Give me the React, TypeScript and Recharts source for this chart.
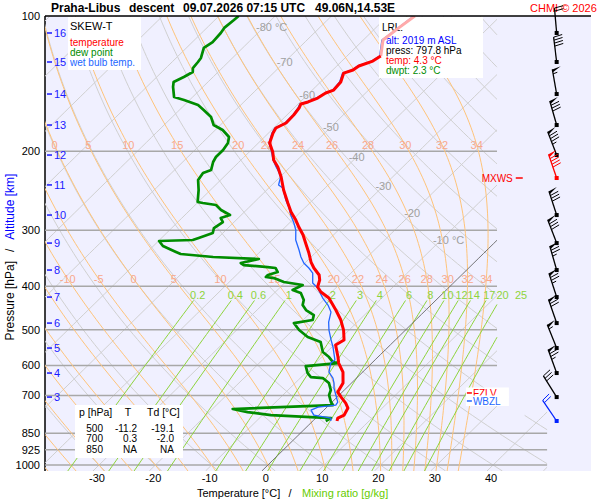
import React from 'react';
import { ScatterChart, Scatter, XAxis, YAxis, CartesianGrid } from 'recharts';

// Sounding: pressure [hPa], temperature [°C]
const tempP = [100, 106.3, 113.1, 122.8, 126.0, 129.2, 131.9, 134.0, 140.3, 146.2, 148.4, 152.3, 155.4, 157.0, 160.3, 166.1, 173.1, 177.6, 182.2, 191.8, 200.9, 209.3, 216.9, 228.3, 244.1, 260.9, 273.2, 284.7, 295.1, 307.4, 320.3, 337.2, 353.1, 364.1, 377.4, 387.2, 401.4, 411.8, 424.7, 451.6, 475.4, 500.4, 526.8, 540.5, 574.8, 592.7, 620.7, 656.7, 687.8, 705.6, 727.7, 746.6, 773.9, 785.9, 797.8];
const tempT = [-55.2, -55.9, -56.5, -54.0, -54.5, -56.1, -56.4, -57.5, -56.4, -56.2, -57.1, -57.6, -58.6, -59.5, -59.1, -58.8, -58.7, -59.6, -59.2, -58.0, -55.8, -54.2, -52.2, -49.8, -47.0, -43.9, -41.7, -39.4, -37.6, -35.4, -33.5, -31.1, -29.1, -27.5, -25.3, -24.3, -23.4, -21.9, -19.4, -16.0, -13.3, -11.0, -9.1, -9.7, -7.1, -5.9, -3.5, -1.5, -0.8, 0.7, 2.6, 3.9, 4.5, 3.9, 4.3];
const flaggedDownTo = 122.8; // pink (unchecked) top part of the temperature trace

const dewP = [100, 102.1, 106.3, 109.1, 114.3, 117.8, 124.0, 126.6, 130.6, 133.3, 136.7, 140.3, 143.9, 151.5, 153.8, 157.8, 161.9, 167.9, 174.9, 179.4, 186.0, 191.8, 198.8, 206.1, 211.4, 220.3, 223.7, 231.9, 244.1, 259.6, 260.9, 263.6, 270.4, 277.5, 281.8, 287.6, 296.6, 304.3, 312.2, 315.4, 317.0, 325.3, 335.4, 338.9, 344.1, 347.7, 354.9, 358.6, 362.3, 364.1, 371.7, 377.4, 381.3, 383.3, 391.2, 397.3, 407.6, 413.9, 429.1, 440.2, 451.6, 463.4, 475.4, 482.8, 500.4, 518.7, 532.2, 560.2, 574.8, 589.7, 592.7, 601.9, 623.9, 636.8, 640.1, 656.7, 680.7, 698.4, 724.0, 735.2, 750.4, 762.1, 773.9, 785.9, 797.8];
const dewT = [-86.5, -86.6, -86.9, -86.6, -86.4, -86.9, -85.6, -85.4, -85.2, -84.5, -85.2, -86.1, -85.3, -83.3, -81.0, -77.6, -75.7, -73.1, -71.2, -68.7, -66.3, -65.4, -65.0, -65.0, -64.6, -63.5, -64.4, -64.0, -62.1, -60.1, -59.0, -56.3, -54.5, -52.0, -53.1, -52.0, -52.5, -51.8, -53.4, -54.1, -59.9, -58.3, -54.9, -53.7, -47.4, -38.9, -41.4, -40.5, -35.9, -34.3, -33.2, -34.4, -34.4, -32.8, -30.3, -26.4, -27.3, -25.3, -23.5, -22.8, -21.3, -19.0, -18.3, -21.1, -18.9, -16.1, -12.9, -10.7, -8.7, -7.1, -6.0, -11.2, -9.6, -8.3, -6.0, -4.0, -2.4, -1.8, -0.2, 0.7, -16.4, -13.2, -8.5, 2.7, 2.3];

const wetP = [100, 106.3, 113.1, 122.8, 126.0, 129.2, 131.9, 134.0, 140.3, 146.2, 148.4, 152.3, 155.4, 157.0, 160.3, 166.1, 173.1, 177.6, 182.2, 191.8, 200.9, 209.3, 216.9, 222.6, 228.3, 237.9, 241.6, 256.9, 266.3, 277.5, 289.1, 299.6, 315.4, 332.0, 344.1, 354.9, 364.1, 373.6, 393.2, 403.5, 424.7, 440.2, 456.3, 480.3, 500.4, 526.8, 546.0, 583.7, 592.7, 620.7, 640.1, 656.7, 673.8, 698.4, 724.0, 735.2, 742.7, 754.3, 773.9, 785.9, 797.8];
const wetT = [-55.4, -56.0, -56.7, -54.2, -54.7, -56.3, -56.6, -57.7, -56.6, -56.4, -57.2, -57.8, -58.8, -59.7, -59.3, -58.9, -58.9, -59.8, -59.4, -58.1, -56.0, -54.3, -52.5, -51.1, -49.9, -48.8, -47.5, -44.8, -43.0, -41.2, -39.2, -37.6, -35.8, -33.4, -31.8, -30.2, -28.4, -26.8, -25.0, -23.2, -20.5, -18.3, -16.5, -15.1, -13.6, -11.4, -9.8, -7.1, -7.3, -6.0, -4.2, -3.1, -2.2, -0.6, 1.0, 1.2, -1.6, -2.3, -0.9, 2.7, 3.2];

// wind: direction [deg], speed [kt]
const windP = [109.1, 126.6, 149.2, 174.9, 204.0, 229.5, 277.5, 320.4, 367.9, 422.6, 482.9, 548.8, 623.9, 705.7, 797.8];
const windDir = [355, 353, 350, 344, 339, 341, 342, 339, 344, 342, 341, 338, 340, 328, 326];
const windKt = [20, 40, 55, 80, 85, 90, 80, 80, 75, 75, 70, 55, 75, 30, 20];
const windMaxIdx = 5;
const windLrlIdx = 14;

const altKm = [16, 15, 14, 13, 12, 11, 10, 9, 8, 7, 6, 5, 4, 3];
const altP = [109.1, 126.6, 149.2, 174.9, 204.0, 237.8, 277.5, 320.4, 367.9, 422.6, 482.9, 548.8, 623.9, 705.7];

const pressureTicks = [100, 200, 300, 400, 500, 600, 700, 850, 925, 1000];
const tempTicks = [-30, -20, -10, 0, 10, 20, 30, 40];

const isotherms = [-120, -110, -100, -90, -80, -70, -60, -50, -40, -30, -20, -10, 0, 10, 20, 30, 40, 50];
const isothermLabelT = [-80, -70, -60, -50, -40, -30, -20, -10];
const isothermLabelP = [105.8, 126.6, 150.0, 176.7, 206.1, 239.1, 274.6, 315.4];
const dryAdiabats = [-40, -30, -20, -10, 0, 10, 20, 30, 40, 50, 60, 70, 80, 90, 100, 110, 120, 130, 140, 150, 160, 170, 180];
const wetAdiabats = [-40, -35, -30, -25, -20, -15, -10, -5, 0, 5, 10, 15, 20, 22, 24, 26, 28, 30, 32, 34];
const wetLabelsHigh = [0, 5, 10, 15, 20, 22, 24, 26, 28, 30, 32, 34];
const wetLabelsLow = [-10, -5, 0, 5, 10, 15, 20, 22, 24, 26, 28, 30, 32, 34];
const mixRatios = [0.2, 0.4, 0.6, 1, 2, 3, 4, 6, 8, 10, 12, 14, 17, 20, 25];

const tableP = ['500', '700', '850'];
const tableT = ['-11.2', '0.3', 'NA'];
const tableTd = ['-19.1', '-2.0', 'NA'];
const lrlAlt = 2019;
const lrlPress = 797.8;
const lrlTemp = 4.3;
const lrlDwpt = 2.3;
const fzlvP = 691;
const wbzlP = 720;

// ---- skew-T geometry ----
const SKEW = 81.3; // °C of skew per decade of pressure
const P_TOP = 100;
const P_BOT = 1031;
const X_MIN = -39.6;
const X_MAX = 57.4;
const GRID_RIGHT_UP = 40.7;
const GRID_RIGHT_LOW = 49.6;
const P_GRID_SPLIT = 760;
const BARB_X = 51.3;
const LABEL_X_MXWS = 43.5;
const LABEL_X_LEVELS = 35.35;

const FONT = '"Liberation Sans", Arial, Helvetica, sans-serif';
const RED = '#FF0000';
const GREEN = '#008C00';
const BLUE = '#2266FF';
const GRAY = '#D0D0D0';
const ORANGE = '#FFC47A';
const SALMON = '#F8A88C';
const LIME = '#8ED43C';

type Pt = { x: number; p: number };

const skewX = (t: number, p: number) => t + SKEW * Math.log10(1000 / p);
const gridRight = (p: number) => (p >= P_GRID_SPLIT ? GRID_RIGHT_LOW : GRID_RIGHT_UP);
const P_STEPS = Array.from({ length: 91 }, (_, i) => P_TOP * Math.pow(P_BOT / P_TOP, i / 90));

const clipRight = (pts: Pt[]): Pt[][] => {
  const runs: Pt[][] = [];
  let run: Pt[] = [];
  const cross = (a: Pt, b: Pt): Pt => {
    const lim = gridRight(a.p);
    const t = Math.min(1, Math.max(0, (lim - a.x) / (b.x - a.x)));
    return { x: a.x + (b.x - a.x) * t, p: a.p * Math.pow(b.p / a.p, t) };
  };
  pts.forEach((pt, i) => {
    const inside = pt.x <= gridRight(pt.p);
    if (inside) {
      if (!run.length && i > 0) run.push(cross(pt, pts[i - 1]));
      run.push(pt);
    } else if (run.length) {
      run.push(cross(pts[i - 1], pt));
      runs.push(run);
      run = [];
    }
  });
  if (run.length) runs.push(run);
  return runs.filter((r) => r.length > 1);
};

// pseudo-adiabat
const satVap = (tc: number) => 6.112 * Math.exp((17.67 * tc) / (tc + 243.5));
const moistSlope = (p: number, tk: number) => {
  const es = satVap(tk - 273.15);
  const rs = (0.622 * es) / (p - es);
  return (287.04 * tk + 2.501e6 * rs) / (1005.7 + (2.501e6 * 2.501e6 * rs * 0.622) / (287.04 * tk * tk)) / p;
};
const moistStep = (tk: number, p0: number, p1: number) => {
  const n = Math.max(1, Math.ceil(Math.abs(p1 - p0) / 2));
  const h = (p1 - p0) / n;
  let t = tk;
  let p = p0;
  for (let i = 0; i < n; i++) {
    const k1 = moistSlope(p, t);
    const k2 = moistSlope(p + h / 2, t + (h / 2) * k1);
    const k3 = moistSlope(p + h / 2, t + (h / 2) * k2);
    const k4 = moistSlope(p + h, t + h * k3);
    t += (h / 6) * (k1 + 2 * k2 + 2 * k3 + k4);
    p += h;
  }
  return t;
};
const moistCurve = (thw: number): Pt[] => {
  let t = thw + 273.15;
  let p = 1000;
  const up = P_STEPS.filter((q) => q <= 1000).reverse().map((q) => {
    t = moistStep(t, p, q);
    p = q;
    return { x: skewX(t - 273.15, q), p: q };
  }).reverse();
  t = thw + 273.15;
  p = 1000;
  const down = P_STEPS.filter((q) => q > 1000).map((q) => {
    t = moistStep(t, p, q);
    p = q;
    return { x: skewX(t - 273.15, q), p: q };
  });
  return [...up, ...down];
};
const moistAt = (thw: number, p: number) => moistStep(thw + 273.15, 1000, p) - 273.15;
const mixDew = (w: number, p: number) => {
  const e = (w * p) / (622 + w);
  const l = Math.log(e / 6.112);
  return (243.5 * l) / (17.67 - l);
};

const series = (ps: number[], ts: number[]): Pt[] => ps.map((p, i) => ({ x: skewX(ts[i], p), p }));

const isothermRuns = isotherms.map((t) => ({ t, runs: clipRight(P_STEPS.map((p) => ({ x: skewX(t, p), p }))) }));
const dryRuns = dryAdiabats.map((th) => clipRight(P_STEPS.map((p) => ({ x: skewX((th + 273.15) * Math.pow(p / 1000, 0.2857) - 273.15, p), p }))));
const wetRuns = wetAdiabats.map((th) => clipRight(moistCurve(th)));
const mixRuns = mixRatios.map((w) => clipRight([430, ...P_STEPS.filter((p) => p > 430)].map((p) => ({ x: skewX(mixDew(w, p), p), p }))));

const isobarData = pressureTicks.slice(1).map((p) => [{ x: X_MIN, p }, { x: p >= P_GRID_SPLIT ? GRID_RIGHT_LOW : GRID_RIGHT_UP, p }]);

const isoLabelData = isothermLabelT.map((t, i) => ({ x: skewX(t, isothermLabelP[i]), p: isothermLabelP[i], label: t === -80 || t === -10 ? `${t} °C` : `${t}` }));
const wetLabelData = [
  ...wetLabelsHigh.map((th) => ({ x: skewX(moistAt(th, 193.8), 193.8), p: 193.8, label: `${th}` })),
  ...wetLabelsLow.map((th) => ({ x: skewX(moistAt(th, 385), 385), p: 385, label: `${th}` })),
];
const mixLabelData = mixRatios.map((w) => ({ x: skewX(mixDew(w, 418), 418), p: 418, label: `${w}` }));
const altLabelData = altKm.map((k, i) => ({ x: X_MIN, p: altP[i], label: `${k}` }));

const tempAll = series(tempP, tempT);
const tempFlagged = tempAll.filter((d) => d.p <= flaggedDownTo);
const tempGood = tempAll.filter((d) => d.p >= flaggedDownTo);
const dewData = series(dewP, dewT);
const wetData = series(wetP, wetT);

const windData = windP.map((p, i) => ({
  x: BARB_X,
  p,
  dir: windDir[i],
  kt: windKt[i],
  col: i === windMaxIdx ? '#FF0000' : i === windLrlIdx ? '#0022FF' : '#000000',
}));

const noDot = () => <g />;

const TextLabel = (fill: string, dx: number, anchor: string) => (props: any) => (
  <text x={props.cx + dx} y={props.cy + 4} textAnchor={anchor} fontSize={11} fontFamily={FONT} fill={fill}>
    {props.payload.label}
  </text>
);

const AltLabel = (props: any) => (
  <g>
    <line x1={props.cx + 2} x2={props.cx + 7} y1={props.cy} y2={props.cy} stroke="#1a1aff" strokeWidth={1.5} />
    <text x={props.cx + 9} y={props.cy + 4} fontSize={11} fontFamily={FONT} fill="#1a1aff">
      {props.payload.label}
    </text>
  </g>
);

const Boxes = (props: any) => {
  const { cx, cy, payload } = props;
  if (payload.kind === 'legend') {
    return (
      <g fontFamily={FONT}>
        <rect x={cx + 23} y={cy + 1} width={73} height={53} fill="#FFFFFF" />
        <text x={cx + 25} y={cy + 14} fontSize={11} fill="#000">SKEW-T</text>
        <text x={cx + 25} y={cy + 29.5} fontSize={10} fill={RED}>temperature</text>
        <text x={cx + 25} y={cy + 39.5} fontSize={10} fill={GREEN}>dew point</text>
        <text x={cx + 25} y={cy + 49.5} fontSize={10} fill={BLUE}>wet bulb temp.</text>
      </g>
    );
  }
  if (payload.kind === 'lrl') {
    return (
      <g fontFamily={FONT} fontSize={10}>
        <rect x={cx + 334} y={cy + 1} width={104} height={61} fill="#FFFFFF" />
        <text x={cx + 337} y={cy + 15} fill="#000">LRL:</text>
        <text x={cx + 341} y={cy + 28} fill="#0000FF">{`alt: ${lrlAlt} m ASL`}</text>
        <text x={cx + 341} y={cy + 38} fill="#000">{`press: ${lrlPress} hPa`}</text>
        <text x={cx + 341} y={cy + 48} fill={RED}>{`temp: ${lrlTemp} °C`}</text>
        <text x={cx + 341} y={cy + 58} fill={GREEN}>{`dwpt: ${lrlDwpt} °C`}</text>
      </g>
    );
  }
  return (
    <g fontFamily={FONT} fill="#000">
      <rect x={cx + 30} y={cy - 66} width={108} height={53} fill="#FFFFFF" />
      <text x={cx + 34} y={cy - 55} fontSize={10.5}>p [hPa]</text>
      <text x={cx + 83} y={cy - 55} fontSize={10.5} textAnchor="middle">T</text>
      <text x={cx + 102} y={cy - 55} fontSize={10.5}>Td [°C]</text>
      {tableP.map((p, i) => (
        <g key={p} fontSize={10} textAnchor="end">
          <text x={cx + 58} y={cy - 39.5 + i * 10.5}>{p}</text>
          <text x={cx + 92} y={cy - 39.5 + i * 10.5}>{tableT[i]}</text>
          <text x={cx + 129} y={cy - 39.5 + i * 10.5}>{tableTd[i]}</text>
        </g>
      ))}
    </g>
  );
};

const LevelMark = (props: any) => {
  const { cx, cy, payload } = props;
  if (payload.kind === 'mxws') {
    return (
      <g>
        <text x={cx} y={cy + 3.5} textAnchor="end" fontSize={10} fontFamily={FONT} fill={RED}>MXWS</text>
        <line x1={cx + 3} x2={cx + 10} y1={cy} y2={cy} stroke={RED} strokeWidth={1.5} />
      </g>
    );
  }
  const col = payload.kind === 'fzlv' ? RED : BLUE;
  return (
    <g>
      <rect x={cx - 1} y={cy - 5.5} width={43} height={10.5} fill="#FFFFFF" />
      <line x1={cx} x2={cx + 5} y1={cy} y2={cy} stroke={col} strokeWidth={1.5} />
      <text x={cx + 6} y={cy + 4} fontSize={10} fontFamily={FONT} fill={col}>
        {payload.kind === 'fzlv' ? 'FZLV' : 'WBZL'}
      </text>
    </g>
  );
};

const Barb = (props: any) => {
  const { cx, cy, payload } = props;
  const col = payload.col;
  const a = (payload.dir * Math.PI) / 180;
  const ux = Math.sin(a);
  const uy = -Math.cos(a);
  const nx = -uy;
  const ny = ux;
  const fx = nx * 0.98 + ux * 0.18;
  const fy = ny * 0.98 + uy * 0.18;
  const L = 25;
  const F = 9;
  const tx = cx + ux * L;
  const ty = cy + uy * L;
  const at = (s: number) => [tx - ux * s, ty - uy * s];
  const parts: React.ReactNode[] = [];
  let rest = Math.round(payload.kt / 5) * 5;
  let s = 0;
  let k = 0;
  while (rest >= 50) {
    const [x0, y0] = at(s);
    const [x1, y1] = at(s + 3);
    parts.push(<polygon key={k++} points={`${x0},${y0} ${x0 + fx * F},${y0 + fy * F} ${x1},${y1}`} fill={col} />);
    s += 4.5;
    rest -= 50;
  }
  while (rest >= 10) {
    const [x0, y0] = at(s);
    parts.push(<line key={k++} x1={x0} y1={y0} x2={x0 + fx * F} y2={y0 + fy * F} stroke={col} strokeWidth={1} />);
    s += 3;
    rest -= 10;
  }
  if (rest >= 5) {
    const [x0, y0] = at(s === 0 ? 3 : s);
    parts.push(<line key={k++} x1={x0} y1={y0} x2={x0 + (fx * F) / 2} y2={y0 + (fy * F) / 2} stroke={col} strokeWidth={1} />);
  }
  return (
    <g>
      <line x1={cx} y1={cy} x2={tx} y2={ty} stroke={col} strokeWidth={1.3} />
      {parts}
      <rect x={cx - 2} y={cy - 2} width={4} height={4} fill={col} />
    </g>
  );
};

const PressureTick = (props: any) => (
  <text x={props.x - 5} y={props.y + 4} textAnchor="end" fontSize={11} fontFamily={FONT} fill="#000">
    {props.payload.value}
  </text>
);
const TempTick = (props: any) => (
  <text x={props.x - 2} y={props.y + 11} textAnchor="middle" fontSize={11} fontFamily={FONT} fill="#000">
    {props.payload.value}
  </text>
);

const curve = (key: string, data: Pt[], stroke: string, width: number) => (
  <Scatter key={key} data={data} line={{ stroke, strokeWidth: width, strokeLinejoin: 'round' }} shape={noDot} isAnimationActive={false} />
);

const layer: React.CSSProperties = { position: 'absolute', left: 0, top: 0 };

export default function App() {
  return (
    <div style={{ position: 'absolute', left: 0, top: 0, width: 600, height: 500, background: '#FFFFFF', fontFamily: FONT }}>
      <div style={layer}>
        <ScatterChart width={600} height={500} margin={{ top: 16, right: 9, bottom: 0, left: 0 }}>
          <CartesianGrid fill="#F0F0FF" stroke="none" horizontal={false} vertical={false} />
          <XAxis type="number" dataKey="x" domain={[X_MIN, X_MAX]} allowDataOverflow ticks={tempTicks} interval={0} height={29} tickSize={0} tickMargin={0} tickLine={false} axisLine={false} tick={TempTick} />
          <YAxis type="number" dataKey="p" scale="log" domain={[P_TOP, P_BOT]} reversed allowDataOverflow ticks={pressureTicks} interval={0} width={45} tickSize={0} tickMargin={0} tickLine={false} axisLine={{ stroke: '#000', strokeWidth: 1.5 }} tick={PressureTick} />

          {isothermRuns.flatMap((iso) => iso.t === 0 ? [] : iso.runs.map((r, j) => curve(`iso${iso.t}_${j}`, r, GRAY, 1)))}
          {dryRuns.flatMap((runs, i) => runs.map((r, j) => curve(`dry${i}_${j}`, r, GRAY, 1)))}
          {isobarData.map((d, i) => curve(`bar${i}`, d, '#A8A8A8', 1.5))}
          {wetRuns.flatMap((runs, i) => runs.map((r, j) => curve(`wet${i}_${j}`, r, ORANGE, 1)))}
          {mixRuns.flatMap((runs, i) => runs.map((r, j) => curve(`mix${i}_${j}`, r, LIME, 1)))}
          {isothermRuns.flatMap((iso) => iso.t !== 0 ? [] : iso.runs.map((r, j) => curve(`zero_${j}`, r, '#666666', 0.9)))}

          <Scatter data={isoLabelData} shape={TextLabel('#A0A0A0', -8, 'start')} isAnimationActive={false} />
          <Scatter data={wetLabelData} shape={TextLabel(SALMON, 0, 'middle')} isAnimationActive={false} />
          <Scatter data={mixLabelData} shape={TextLabel(LIME, 0, 'middle')} isAnimationActive={false} />
          <Scatter data={altLabelData} shape={AltLabel} isAnimationActive={false} />

          <Scatter
            data={[
              { x: X_MIN, p: P_TOP, kind: 'legend' },
              { x: X_MIN, p: P_TOP, kind: 'lrl' },
              { x: X_MIN, p: P_BOT, kind: 'table' },
            ]}
            shape={Boxes}
            isAnimationActive={false}
          />
          <Scatter
            data={[
              { x: LABEL_X_MXWS, p: windP[windMaxIdx], kind: 'mxws' },
              { x: LABEL_X_LEVELS, p: fzlvP, kind: 'fzlv' },
              { x: LABEL_X_LEVELS, p: wbzlP, kind: 'wbzl' },
            ]}
            shape={LevelMark}
            isAnimationActive={false}
          />

          {curve('dew', dewData, GREEN, 2.7)}
          {curve('wetbulb', wetData, BLUE, 1.3)}
          {curve('tempFlagged', tempFlagged, '#FFAAAA', 3)}
          {curve('temp', tempGood, RED, 3)}
        </ScatterChart>
      </div>

      <svg width={600} height={500} style={{ ...layer, pointerEvents: 'none' }} fontFamily={FONT}>
        <g fontWeight="bold" fontSize={12} fill="#000">
          <text x={51} y={12}>Praha-Libus</text>
          <text x={129} y={12}>descent</text>
          <text x={183} y={12}>09.07.2026 07:15 UTC</text>
          <text x={315} y={12}>49.06N,14.53E</text>
        </g>
        <text x={530} y={12} fontSize={11} fill={RED}>CHMI © 2026</text>
        <text transform="translate(14,257) rotate(-90)" textAnchor="middle" fontSize={12}>
          <tspan fill="#000">Pressure [hPa]</tspan>
          <tspan dx={9} fill="#000">/</tspan>
          <tspan dx={9} fill="#0000FF">Altitude [km]</tspan>
        </text>
        <text x={197} y={497} fontSize={11} fill="#000">Temperature [°C]</text>
        <text x={290} y={497} fontSize={11} fill="#000" textAnchor="middle">/</text>
        <text x={302} y={497} fontSize={11} fill="#66CC00">Mixing ratio [g/kg]</text>
      </svg>

      <div style={layer}>
        <ScatterChart width={600} height={500} margin={{ top: 16, right: 9, bottom: 0, left: 0 }}>
          <XAxis type="number" dataKey="x" domain={[X_MIN, X_MAX]} height={29} tick={false} tickLine={false} axisLine={false} />
          <YAxis type="number" dataKey="p" scale="log" domain={[P_TOP, P_BOT]} reversed width={45} tick={false} tickLine={false} axisLine={false} />
          {curve('top', [{ x: X_MIN, p: P_TOP }, { x: X_MAX, p: P_TOP }], '#000000', 1.5)}
          <Scatter data={windData} shape={Barb} isAnimationActive={false} />
        </ScatterChart>
      </div>
    </div>
  );
}
